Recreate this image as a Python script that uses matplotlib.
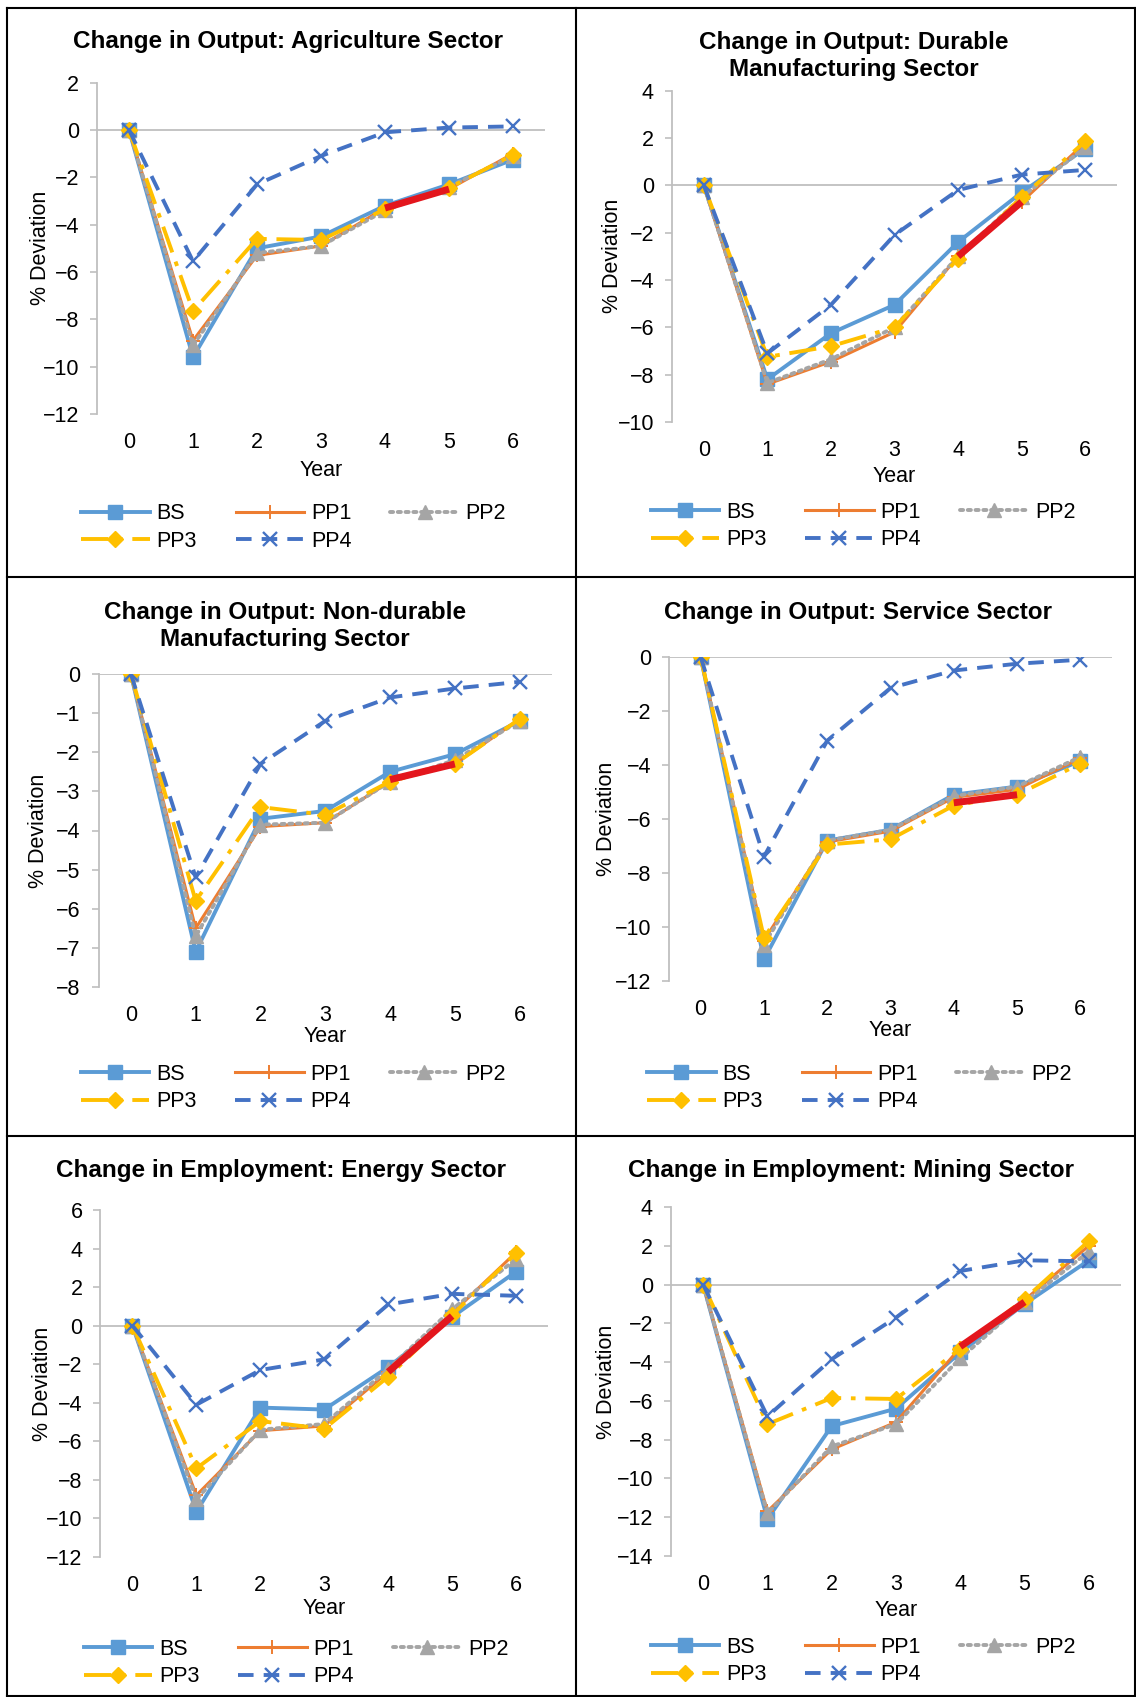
import numpy as np
import matplotlib
matplotlib.use('Agg')
from matplotlib import pyplot as plt
from matplotlib.lines import Line2D

plt.rcParams['font.family'] = ['Liberation Sans', 'DejaVu Sans']
plt.rcParams['font.size'] = 15.5

W, H = 1136, 1697

years = [0, 1, 2, 3, 4, 5, 6]
names = ['BS', 'PP1', 'PP2', 'PP3', 'PP4']

# --- values (% deviation) ---
agri_bs = [0, -9.6, -5.0, -4.5, -3.2, -2.3, -1.25]
agri_pp1 = [0, -8.9, -5.3, -4.9, -3.3, -2.5, -1.0]
agri_pp2 = [0, -9.1, -5.2, -4.9, -3.4, -2.4, -1.1]
agri_pp3 = [0, -7.65, -4.6, -4.65, -3.35, -2.45, -1.05]
agri_pp4 = [0, -5.55, -2.3, -1.1, -0.1, 0.1, 0.15]
agri_red = [-3.3, -2.5]

dur_bs = [0, -8.2, -6.25, -5.05, -2.4, -0.3, 1.55]
dur_pp1 = [0, -8.4, -7.45, -6.2, -3.0, -0.7, 1.8]
dur_pp2 = [0, -8.35, -7.35, -6.0, -3.0, -0.5, 1.6]
dur_pp3 = [0, -7.25, -6.8, -6.0, -3.1, -0.5, 1.85]
dur_pp4 = [0, -7.1, -5.05, -2.1, -0.2, 0.45, 0.65]
dur_red = [-3.0, -0.7]

nondur_bs = [0, -7.1, -3.7, -3.5, -2.5, -2.05, -1.2]
nondur_pp1 = [0, -6.5, -3.9, -3.8, -2.75, -2.3, -1.15]
nondur_pp2 = [0, -6.7, -3.85, -3.8, -2.75, -2.2, -1.2]
nondur_pp3 = [0, -5.8, -3.4, -3.6, -2.75, -2.3, -1.15]
nondur_pp4 = [0, -5.2, -2.3, -1.2, -0.6, -0.37, -0.2]
nondur_red = [-2.7, -2.3]

serv_bs = [0, -11.2, -6.8, -6.4, -5.1, -4.8, -3.85]
serv_pp1 = [0, -10.5, -6.85, -6.45, -5.2, -4.9, -3.75]
serv_pp2 = [0, -10.65, -6.8, -6.4, -5.15, -4.8, -3.7]
serv_pp3 = [0, -10.4, -6.95, -6.75, -5.5, -5.1, -3.95]
serv_pp4 = [0, -7.4, -3.1, -1.15, -0.5, -0.25, -0.1]
serv_red = [-5.4, -5.1]

energy_bs = [0, -9.65, -4.25, -4.35, -2.15, 0.45, 2.8]
energy_pp1 = [0, -8.8, -5.45, -5.2, -2.4, 0.65, 3.8]
energy_pp2 = [0, -9.0, -5.4, -5.1, -2.25, 0.85, 3.45]
energy_pp3 = [0, -7.4, -4.95, -5.35, -2.65, 0.55, 3.75]
energy_pp4 = [0, -4.1, -2.3, -1.75, 1.1, 1.65, 1.55]
energy_red = [-2.4, 0.5]

mining_bs = [0, -12.1, -7.3, -6.4, -3.5, -1.0, 1.25]
mining_pp1 = [0, -11.7, -8.5, -7.1, -3.25, -0.8, 2.0]
mining_pp2 = [0, -11.8, -8.35, -7.2, -3.8, -0.9, 1.7]
mining_pp3 = [0, -7.2, -5.85, -5.9, -3.3, -0.75, 2.25]
mining_pp4 = [0, -6.8, -3.85, -1.7, 0.7, 1.25, 1.2]
mining_red = [-3.2, -0.9]

titles = ['Change in Output: Agriculture Sector',
          'Change in Output: Durable\nManufacturing Sector',
          'Change in Output: Non-durable\nManufacturing Sector',
          'Change in Output: Service Sector',
          'Change in Employment: Energy Sector',
          'Change in Employment: Mining Sector']

panels = [
    [agri_bs, agri_pp1, agri_pp2, agri_pp3, agri_pp4],
    [dur_bs, dur_pp1, dur_pp2, dur_pp3, dur_pp4],
    [nondur_bs, nondur_pp1, nondur_pp2, nondur_pp3, nondur_pp4],
    [serv_bs, serv_pp1, serv_pp2, serv_pp3, serv_pp4],
    [energy_bs, energy_pp1, energy_pp2, energy_pp3, energy_pp4],
    [mining_bs, mining_pp1, mining_pp2, mining_pp3, mining_pp4],
]
reds = [agri_red, dur_red, nondur_red, serv_red, energy_red, mining_red]

ylims = [(-12, 2, 2), (-10, 4, 2), (-8, 0, 1), (-12, 0, 2), (-12, 6, 2), (-14, 4, 2)]

# --- layout (pixels) ---
rects = [(97, 82.6, 545, 414), (672, 90.6, 1117, 422),
         (98.5, 674, 552, 987), (669, 657, 1112, 981),
         (100.5, 1210, 548, 1557), (671, 1207, 1121, 1556)]
title_pos = [(288, 41.7), (854, 56), (285, 626), (858, 612), (281, 1170.5), (851, 1170.5)]
xlab_off = [56, 54, 50, 50, 52, 55]
ylab_off = [57, 60, 60, 63, 58, 65]
leg_pos = [(293.5, 527.5), (863, 526), (293, 1088), (859.5, 1088), (296, 1663), (863, 1661)]

styles = [
    dict(color='#5B9BD5', ls='-', lw=2.8, marker='s', ms=10),
    dict(color='#ED7D31', ls='-', lw=2.2, marker='+', ms=10, mew=1.4),
    dict(color='#A5A5A5', ls=(0, (0.8, 1.2)), lw=2.8, marker='^', ms=10,
         dash_capstyle='round'),
    dict(color='#FFC000', ls=(0, (7, 2.5, 1.2, 2.5)), lw=2.8, marker='D', ms=8.5),
    dict(color='#4472C4', ls=(0, (4, 2.6)), lw=2.8, marker='x', ms=10, mew=1.7),
]

fig = plt.figure(figsize=(W / 100, H / 100), dpi=100)

for i in range(6):
    l, t, r, b = rects[i]
    ax = fig.add_axes([l / W, 1 - b / H, (r - l) / W, (b - t) / H])
    lines = []
    for k in range(5):
        zo = 3 + k
        ln, = ax.plot(years, panels[i][k], label=names[k], zorder=zo, **styles[k])
        lines.append(ln)
    # highlighted PP1 segment between year 4 and 5
    ax.plot(years[4:6], reds[i], color='#E3161D', lw=5, solid_capstyle='butt', zorder=6.5)

    ymin, ymax, step = ylims[i]
    ax.set_ylim(ymin, ymax)
    ax.set_yticks(np.arange(ymin, ymax + step / 2, step))
    ax.set_xlim(-0.5, 6.5)
    ax.set_xticks(years)
    ax.axhline(0, color='#BFBFBF', lw=1.3, zorder=1)
    for s in ['top', 'right', 'bottom']:
        ax.spines[s].set_visible(False)
    ax.spines['left'].set_color('#BFBFBF')
    ax.spines['left'].set_linewidth(1.3)
    ax.tick_params(axis='y', length=5, width=1.2, color='#BFBFBF', pad=8)
    ax.tick_params(axis='x', length=0, pad=13)

    h = b - t
    w = r - l
    ax.set_xlabel('Year', va='center')
    ax.xaxis.set_label_coords(0.5, -xlab_off[i] / h)
    ax.set_ylabel('% Deviation', va='center')
    ax.yaxis.set_label_coords(-ylab_off[i] / w, 0.5)

    tx, ty = title_pos[i]
    fig.text(tx / W, 1 - ty / H, titles[i], ha='center', va='center',
             fontsize=17.5, fontweight='bold', linespacing=1.2)

    order = [0, 3, 1, 4, 2]
    lx, ly = leg_pos[i]
    fig.legend([lines[j] for j in order], [names[j] for j in order],
               loc='center', bbox_to_anchor=(lx / W, 1 - ly / H), ncol=3,
               frameon=False, handlelength=3.2, handletextpad=0.3,
               columnspacing=1.8, labelspacing=0.3, borderpad=0, fontsize=15.5)

# panel borders
bl = dict(color='black', lw=1.5, transform=fig.transFigure)
xs = [7 / W, 1135 / W]
for y in [8, 577, 1136, 1696]:
    fig.add_artist(Line2D(xs, [1 - y / H, 1 - y / H], **bl))
for x in [7, 576, 1135]:
    fig.add_artist(Line2D([x / W, x / W], [1 - 8 / H, 1 - 1696 / H], **bl))

fig.savefig('out.png', dpi=100)
